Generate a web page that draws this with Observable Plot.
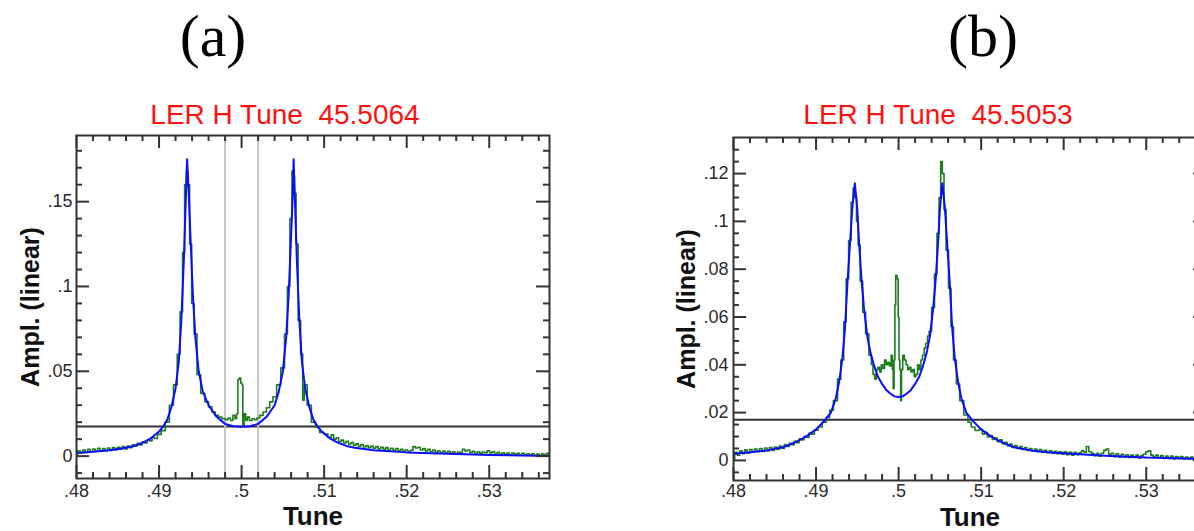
<!DOCTYPE html>
<html>
<head>
<meta charset="utf-8">
<script src="https://cdn.jsdelivr.net/npm/d3@7"></script>
<script src="https://cdn.jsdelivr.net/npm/@observablehq/plot@0.6"></script>
<style>
  html, body { margin: 0; padding: 0; background: #fff; overflow: hidden; }
  #root { position: relative; width: 1194px; height: 531px; overflow: hidden; background: #fff; }
  .plabel { position: absolute; top: 6px; font-family: "Liberation Serif", "DejaVu Serif", serif; font-size: 60px; line-height: 60px; color: #000; transform: translateX(-50%); white-space: nowrap; }
  .ptitle { position: absolute; top: 101px; font-family: "Liberation Sans", Arial, sans-serif; font-size: 28px; line-height: 28px; color: #ff1010; transform: translateX(-50%); white-space: pre; }
  .svgbox { position: absolute; top: 0; }
  .svgbox svg { max-width: none !important; }
</style>
</head>
<body>
<div id="root"></div>
<script>
// ---------------- DATA ----------------
const panelLabels = ["(a)", "(b)"];
const titles = ["LER H Tune  45.5064", "LER H Tune  45.5053"];
const xLabel = "Tune";
const yLabel = "Ampl. (linear)";

const xDomain = [0.48, 0.5373];
const xMajor = [0.48, 0.49, 0.50, 0.51, 0.52, 0.53];
const xMinor = [0.482, 0.484, 0.486, 0.488, 0.492, 0.494, 0.496, 0.498, 0.502, 0.504, 0.506, 0.508,
                0.512, 0.514, 0.516, 0.518, 0.522, 0.524, 0.526, 0.528, 0.532, 0.534, 0.536];

const yDomainA = [-0.0132, 0.189];
const yMajorA = [0, 0.05, 0.10, 0.15];
const yMinorA = [-0.01, 0.01, 0.02, 0.03, 0.04, 0.06, 0.07, 0.08, 0.09, 0.11, 0.12, 0.13, 0.14, 0.16, 0.17, 0.18];

const yDomainB = [-0.0084, 0.1351];
const yMajorB = [0, 0.02, 0.04, 0.06, 0.08, 0.10, 0.12];
const yMinorB = [-0.005, 0.005, 0.01, 0.015, 0.025, 0.03, 0.035, 0.045, 0.05, 0.055, 0.065, 0.07, 0.075,
                 0.085, 0.09, 0.095, 0.105, 0.11, 0.115, 0.125, 0.13];

const thresholdA = [0.0175];
const thresholdB = [0.017];
const windowA = [0.498, 0.502];

// fitted curve (blue), panel a: [tune, amplitude]
const fitA = [
  [0.4800,0.0018],[0.4820,0.0026],[0.4840,0.0035],[0.4860,0.0049],[0.4870,0.0060],[0.4880,0.0078],
  [0.4890,0.0105],[0.4900,0.0145],[0.4905,0.0175],[0.4910,0.0215],[0.4915,0.0290],[0.4920,0.0400],
  [0.4924,0.0560],[0.4927,0.0800],[0.4930,0.1150],[0.4932,0.1450],[0.4934,0.1750],[0.4936,0.1550],
  [0.4938,0.1300],[0.4941,0.0950],[0.4944,0.0700],[0.4948,0.0500],[0.4953,0.0380],[0.4960,0.0300],
  [0.4970,0.0230],[0.4980,0.0190],[0.4990,0.0176],[0.5000,0.0173],[0.5010,0.0176],[0.5020,0.0190],
  [0.5030,0.0230],[0.5040,0.0300],[0.5045,0.0380],[0.5050,0.0500],[0.5054,0.0700],[0.5057,0.0950],
  [0.5060,0.1300],[0.5062,0.1550],[0.5063,0.1750],[0.5065,0.1450],[0.5067,0.1150],[0.5070,0.0800],
  [0.5073,0.0560],[0.5077,0.0400],[0.5082,0.0290],[0.5087,0.0215],[0.5092,0.0175],[0.5097,0.0145],
  [0.5107,0.0105],[0.5117,0.0078],[0.5127,0.0060],[0.5137,0.0049],[0.5160,0.0034],[0.5200,0.0022],
  [0.5250,0.0014],[0.5300,0.0007],[0.5373,0.0000]
];

// measured spectrum (green), panel a
const measA = [
  [0.4800,0.0010],[0.4803,0.0032],[0.4806,0.0018],[0.4809,0.0036],[0.4812,0.0022],[0.4815,0.0040],
  [0.4818,0.0026],[0.4821,0.0042],[0.4824,0.0028],[0.4827,0.0046],[0.4830,0.0030],[0.4833,0.0044],
  [0.4836,0.0032],[0.4839,0.0048],[0.4842,0.0034],[0.4845,0.0050],[0.4848,0.0036],[0.4851,0.0052],
  [0.4854,0.0040],[0.4857,0.0056],[0.4860,0.0042],[0.4863,0.0060],[0.4866,0.0050],[0.4869,0.0066],
  [0.4872,0.0058],[0.4875,0.0076],[0.4878,0.0066],[0.4881,0.0084],[0.4884,0.0078],[0.4887,0.0096],
  [0.4890,0.0090],[0.4893,0.0110],[0.4896,0.0104],[0.4900,0.0128],[0.4905,0.0150],[0.4910,0.0200],
  [0.4915,0.0300],[0.4920,0.0420],[0.4924,0.0600],[0.4927,0.0850],[0.4930,0.1200],[0.4932,0.1600],
  [0.4934,0.1680],[0.4936,0.1600],[0.4938,0.1250],[0.4941,0.0900],[0.4944,0.0720],[0.4948,0.0480],
  [0.4953,0.0370],[0.4958,0.0320],[0.4962,0.0290],[0.4966,0.0260],[0.4970,0.0240],[0.4974,0.0230],
  [0.4978,0.0220],[0.4982,0.0215],[0.4985,0.0225],[0.4988,0.0210],[0.4991,0.0240],[0.4993,0.0220],
  [0.4995,0.0250],[0.4996,0.0450],[0.4998,0.0460],[0.5000,0.0430],[0.5001,0.0420],[0.5002,0.0180],
  [0.5004,0.0250],[0.5006,0.0210],[0.5008,0.0230],[0.5011,0.0210],[0.5014,0.0220],[0.5017,0.0215],
  [0.5020,0.0225],[0.5024,0.0240],[0.5028,0.0260],[0.5032,0.0285],[0.5036,0.0320],[0.5040,0.0350],
  [0.5045,0.0420],[0.5050,0.0520],[0.5054,0.0720],[0.5057,0.1000],[0.5060,0.1400],[0.5062,0.1680],
  [0.5063,0.1650],[0.5065,0.1550],[0.5067,0.1250],[0.5070,0.0800],[0.5073,0.0600],[0.5075,0.0330],
  [0.5077,0.0420],[0.5082,0.0300],[0.5087,0.0200],[0.5092,0.0170],[0.5097,0.0140],[0.5102,0.0130],
  [0.5107,0.0110],[0.5110,0.0125],[0.5113,0.0100],[0.5116,0.0108],[0.5119,0.0085],[0.5122,0.0094],
  [0.5125,0.0078],[0.5128,0.0088],[0.5131,0.0070],[0.5134,0.0080],[0.5137,0.0064],[0.5140,0.0072],
  [0.5143,0.0058],[0.5146,0.0068],[0.5149,0.0054],[0.5152,0.0062],[0.5155,0.0050],[0.5158,0.0060],
  [0.5161,0.0046],[0.5164,0.0056],[0.5167,0.0042],[0.5170,0.0052],[0.5173,0.0040],[0.5176,0.0050],
  [0.5179,0.0036],[0.5182,0.0046],[0.5185,0.0034],[0.5188,0.0044],[0.5191,0.0032],[0.5194,0.0040],
  [0.5197,0.0030],[0.5200,0.0036],[0.5203,0.0026],[0.5206,0.0034],[0.5209,0.0056],[0.5212,0.0048],
  [0.5215,0.0052],[0.5218,0.0036],[0.5221,0.0044],[0.5224,0.0030],[0.5227,0.0040],[0.5230,0.0026],
  [0.5233,0.0036],[0.5236,0.0022],[0.5239,0.0032],[0.5242,0.0020],[0.5245,0.0030],[0.5248,0.0018],
  [0.5251,0.0028],[0.5254,0.0016],[0.5257,0.0026],[0.5260,0.0014],[0.5263,0.0024],[0.5266,0.0020],
  [0.5269,0.0040],[0.5272,0.0030],[0.5275,0.0036],[0.5278,0.0020],[0.5281,0.0028],[0.5284,0.0014],
  [0.5287,0.0026],[0.5290,0.0016],[0.5293,0.0024],[0.5296,0.0020],[0.5299,0.0032],[0.5302,0.0018],
  [0.5305,0.0026],[0.5308,0.0012],[0.5311,0.0022],[0.5314,0.0010],[0.5317,0.0020],[0.5320,0.0010],
  [0.5323,0.0018],[0.5326,0.0008],[0.5329,0.0018],[0.5332,0.0010],[0.5335,0.0016],[0.5338,0.0006],
  [0.5341,0.0016],[0.5344,0.0006],[0.5347,0.0014],[0.5350,0.0006],[0.5353,0.0014],[0.5356,0.0004],
  [0.5359,0.0012],[0.5362,0.0004],[0.5365,0.0014],[0.5368,0.0006],[0.5371,0.0016],[0.5373,0.0010]
];

// fitted curve (blue), panel b
const fitB = [
  [0.4800,0.0028],[0.4820,0.0034],[0.4840,0.0042],[0.4860,0.0055],[0.4870,0.0068],[0.4880,0.0085],
  [0.4890,0.0105],[0.4900,0.0130],[0.4910,0.0165],[0.4918,0.0200],[0.4924,0.0260],[0.4928,0.0330],
  [0.4932,0.0430],[0.4935,0.0550],[0.4938,0.0740],[0.4941,0.0900],[0.4944,0.1060],[0.4947,0.1160],
  [0.4950,0.1050],[0.4952,0.0920],[0.4955,0.0760],[0.4958,0.0640],[0.4962,0.0520],[0.4966,0.0450],
  [0.4970,0.0400],[0.4975,0.0350],[0.4980,0.0320],[0.4985,0.0295],[0.4990,0.0280],[0.4995,0.0268],
  [0.5000,0.0265],[0.5005,0.0268],[0.5010,0.0280],[0.5015,0.0295],[0.5020,0.0320],[0.5025,0.0350],
  [0.5030,0.0400],[0.5034,0.0450],[0.5038,0.0520],[0.5042,0.0640],[0.5045,0.0760],[0.5048,0.0920],
  [0.5050,0.1050],[0.5053,0.1160],[0.5056,0.1060],[0.5059,0.0900],[0.5062,0.0740],[0.5065,0.0550],
  [0.5068,0.0430],[0.5072,0.0330],[0.5076,0.0260],[0.5082,0.0200],[0.5090,0.0165],[0.5100,0.0130],
  [0.5110,0.0105],[0.5120,0.0085],[0.5130,0.0068],[0.5140,0.0055],[0.5160,0.0042],[0.5180,0.0034],
  [0.5200,0.0030],[0.5250,0.0020],[0.5300,0.0012],[0.5373,0.0006]
];

// measured spectrum (green), panel b
const measB = [
  [0.4800,0.0005],[0.4803,0.0034],[0.4806,0.0022],[0.4809,0.0040],[0.4812,0.0028],[0.4815,0.0044],
  [0.4818,0.0030],[0.4821,0.0046],[0.4824,0.0034],[0.4827,0.0048],[0.4830,0.0036],[0.4833,0.0050],
  [0.4836,0.0038],[0.4839,0.0052],[0.4842,0.0040],[0.4845,0.0054],[0.4848,0.0042],[0.4851,0.0056],
  [0.4854,0.0046],[0.4857,0.0060],[0.4860,0.0050],[0.4863,0.0066],[0.4866,0.0058],[0.4869,0.0072],
  [0.4872,0.0066],[0.4875,0.0080],[0.4878,0.0074],[0.4881,0.0090],[0.4884,0.0086],[0.4887,0.0100],
  [0.4890,0.0096],[0.4893,0.0114],[0.4896,0.0110],[0.4900,0.0126],[0.4905,0.0140],[0.4910,0.0160],
  [0.4915,0.0180],[0.4918,0.0210],[0.4924,0.0250],[0.4928,0.0340],[0.4932,0.0420],[0.4935,0.0580],
  [0.4938,0.0760],[0.4941,0.0920],[0.4944,0.1080],[0.4946,0.1140],[0.4948,0.1100],[0.4950,0.1000],
  [0.4952,0.0900],[0.4955,0.0750],[0.4958,0.0620],[0.4962,0.0530],[0.4966,0.0440],[0.4968,0.0400],
  [0.4970,0.0360],[0.4972,0.0340],[0.4974,0.0380],[0.4976,0.0390],[0.4978,0.0370],[0.4980,0.0400],
  [0.4982,0.0385],[0.4984,0.0420],[0.4986,0.0400],[0.4988,0.0410],[0.4990,0.0395],[0.4992,0.0440],
  [0.4993,0.0380],[0.4994,0.0300],[0.4995,0.0420],[0.4996,0.0650],[0.4997,0.0775],[0.4999,0.0760],
  [0.5000,0.0600],[0.5001,0.0420],[0.5002,0.0380],[0.5003,0.0250],[0.5004,0.0380],[0.5006,0.0440],
  [0.5008,0.0420],[0.5010,0.0400],[0.5012,0.0380],[0.5014,0.0390],[0.5016,0.0370],[0.5018,0.0380],
  [0.5020,0.0350],[0.5022,0.0360],[0.5024,0.0400],[0.5026,0.0380],[0.5028,0.0420],[0.5030,0.0440],
  [0.5032,0.0470],[0.5034,0.0490],[0.5036,0.0520],[0.5038,0.0540],[0.5042,0.0640],[0.5045,0.0780],
  [0.5048,0.0950],[0.5050,0.1100],[0.5052,0.1250],[0.5054,0.1200],[0.5056,0.1050],[0.5059,0.0880],
  [0.5062,0.0720],[0.5065,0.0560],[0.5068,0.0420],[0.5072,0.0320],[0.5076,0.0250],[0.5082,0.0190],
  [0.5086,0.0160],[0.5090,0.0140],[0.5095,0.0125],[0.5100,0.0130],[0.5103,0.0110],[0.5106,0.0118],
  [0.5109,0.0098],[0.5112,0.0104],[0.5115,0.0088],[0.5118,0.0094],[0.5121,0.0078],[0.5124,0.0086],
  [0.5127,0.0070],[0.5130,0.0076],[0.5133,0.0062],[0.5136,0.0068],[0.5139,0.0054],[0.5142,0.0062],
  [0.5145,0.0050],[0.5148,0.0058],[0.5151,0.0046],[0.5154,0.0054],[0.5157,0.0042],[0.5160,0.0050],
  [0.5163,0.0040],[0.5166,0.0048],[0.5169,0.0036],[0.5172,0.0046],[0.5175,0.0034],[0.5178,0.0042],
  [0.5181,0.0032],[0.5184,0.0040],[0.5187,0.0030],[0.5190,0.0038],[0.5193,0.0028],[0.5196,0.0036],
  [0.5199,0.0026],[0.5202,0.0036],[0.5205,0.0024],[0.5208,0.0034],[0.5211,0.0022],[0.5214,0.0034],
  [0.5217,0.0024],[0.5220,0.0032],[0.5223,0.0040],[0.5226,0.0034],[0.5229,0.0058],[0.5232,0.0036],
  [0.5235,0.0030],[0.5238,0.0020],[0.5241,0.0030],[0.5244,0.0018],[0.5247,0.0030],[0.5250,0.0042],
  [0.5253,0.0048],[0.5256,0.0026],[0.5259,0.0030],[0.5262,0.0016],[0.5265,0.0028],[0.5268,0.0014],
  [0.5271,0.0026],[0.5274,0.0014],[0.5277,0.0024],[0.5280,0.0012],[0.5283,0.0022],[0.5286,0.0012],
  [0.5289,0.0022],[0.5292,0.0010],[0.5295,0.0020],[0.5298,0.0026],[0.5301,0.0036],[0.5304,0.0040],
  [0.5307,0.0022],[0.5310,0.0016],[0.5313,0.0022],[0.5316,0.0010],[0.5319,0.0020],[0.5322,0.0008],
  [0.5325,0.0018],[0.5328,0.0008],[0.5331,0.0018],[0.5334,0.0006],[0.5337,0.0016],[0.5340,0.0008],
  [0.5343,0.0016],[0.5346,0.0006],[0.5349,0.0014],[0.5352,0.0006],[0.5355,0.0014],[0.5358,0.0004],
  [0.5361,0.0012],[0.5364,0.0006],[0.5367,0.0014],[0.5370,0.0006],[0.5373,0.0010]
];

// ---------------- RENDER ----------------
const fmt = d => {
  if (d === 0) return "0";
  const s = String(+d.toFixed(4));
  return s.replace(/^0\./, ".").replace(/^-0\./, "-.");
};

const root = document.getElementById("root");
const FRAME = "#333";
const BLUE = "#0c0cff";
const GREEN = "#1c7c1c";

function panel(cfg) {
  const innerW = cfg.width - cfg.ml - cfg.mr;
  const innerH = cfg.height - cfg.mt - cfg.mb;
  const MAJ = 13, MIN = 6;
  const marks = [
    Plot.ruleY(cfg.threshold, {y: d => d, stroke: FRAME, strokeWidth: 2}),
    ...(cfg.window ? [Plot.ruleX(cfg.window, {x: d => d, stroke: "#c4c4c4", strokeWidth: 2})] : []),
    Plot.line(cfg.meas, {x: d => d[0], y: d => d[1], stroke: GREEN, strokeWidth: 1.6, curve: "step", clip: true}),
    Plot.line(cfg.fit, {x: d => d[0], y: d => d[1], stroke: BLUE, strokeWidth: 2, clip: true}),
    Plot.tickX(xMajor, {x: d => d, insetTop: innerH - MAJ, stroke: FRAME, strokeWidth: 2}),
    Plot.tickX(xMinor, {x: d => d, insetTop: innerH - MIN, stroke: FRAME, strokeWidth: 2}),
    Plot.tickX(xMajor, {x: d => d, insetBottom: innerH - MAJ, stroke: FRAME, strokeWidth: 2}),
    Plot.tickX(xMinor, {x: d => d, insetBottom: innerH - MIN, stroke: FRAME, strokeWidth: 2}),
    Plot.tickY(cfg.yMajor, {y: d => d, insetRight: innerW - MAJ, stroke: FRAME, strokeWidth: 2}),
    Plot.tickY(cfg.yMinor, {y: d => d, insetRight: innerW - MIN, stroke: FRAME, strokeWidth: 2}),
    Plot.tickY(cfg.yMajor, {y: d => d, insetLeft: innerW - MAJ, stroke: FRAME, strokeWidth: 2}),
    Plot.tickY(cfg.yMinor, {y: d => d, insetLeft: innerW - MIN, stroke: FRAME, strokeWidth: 2}),
    Plot.frame({stroke: FRAME, strokeWidth: 2}),
    Plot.axisX(xMajor, {tickSize: 0, tickPadding: cfg.xpad, tickFormat: fmt, label: null, fill: "#2a2a2a", fontSize: 18}),
    Plot.axisY(cfg.yMajor, {tickSize: 0, tickPadding: cfg.ypad, tickFormat: fmt, label: null, fill: "#2a2a2a", fontSize: 18}),
    Plot.text([xLabel], {text: d => d, frameAnchor: "bottom", dy: cfg.xdy, fontSize: 26, fontWeight: "bold", fill: "#111", textAnchor: "middle", lineAnchor: "middle"}),
    Plot.text([yLabel], {text: d => d, frameAnchor: "left", dx: cfg.ydx, rotate: -90, fontSize: 25, fontWeight: "bold", fill: "#111", textAnchor: "middle", lineAnchor: "middle"})
  ];
  const svg = Plot.plot({
    width: cfg.width,
    height: cfg.height,
    marginLeft: cfg.ml,
    marginRight: cfg.mr,
    marginTop: cfg.mt,
    marginBottom: cfg.mb,
    style: {fontFamily: "'Liberation Sans', Arial, sans-serif", fontSize: "18px", background: "transparent", overflow: "visible", maxWidth: "none"},
    x: {domain: xDomain},
    y: {domain: cfg.yDomain},
    marks
  });
  const box = document.createElement("div");
  box.className = "svgbox";
  box.style.left = cfg.left + "px";
  box.style.width = cfg.width + "px";
  box.appendChild(svg);
  root.appendChild(box);
}

panel({left: 0, width: 590, height: 531, ml: 76, mr: 41, mt: 135, mb: 53,
       yDomain: yDomainA, yMajor: yMajorA, yMinor: yMinorA, threshold: thresholdA, window: windowA,
       fit: fitA, meas: measA, ypad: 4, ydx: -46, xdy: 38, xpad: 6});
panel({left: 600, width: 650, height: 531, ml: 133, mr: 44, mt: 137, mb: 51,
       yDomain: yDomainB, yMajor: yMajorB, yMinor: yMinorB, threshold: thresholdB, window: null,
       fit: fitB, meas: measB, ypad: 5, ydx: -47, xdy: 37, xpad: 4});

const labelCenters = [213, 983];
const titleCenters = [285, 938];
panelLabels.forEach((t, i) => {
  const d = document.createElement("div");
  d.className = "plabel";
  d.style.left = labelCenters[i] + "px";
  d.textContent = t;
  root.appendChild(d);
});
titles.forEach((t, i) => {
  const d = document.createElement("div");
  d.className = "ptitle";
  d.style.left = titleCenters[i] + "px";
  d.textContent = t;
  root.appendChild(d);
});
</script>
</body>
</html>
